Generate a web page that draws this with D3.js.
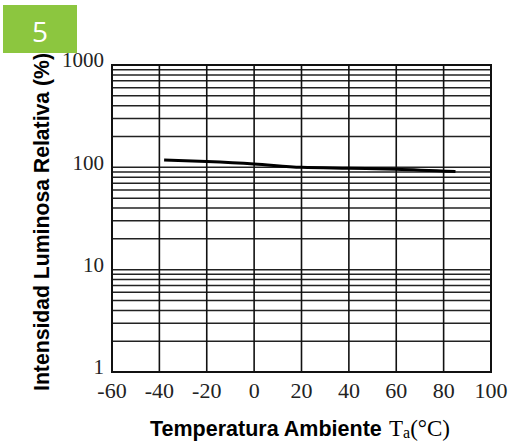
<!DOCTYPE html>
<html>
<head>
<meta charset="utf-8">
<script src="https://cdn.jsdelivr.net/npm/d3@7"></script>
<style>
  html, body { margin: 0; padding: 0; background: #fff; }
  svg { display: block; }
</style>
</head>
<body>
<svg id="drawing_region"></svg>
<script>
// curve
const temps = [-38, -20, 0, 20, 40, 60, 85];
const intensity = [118, 114, 108, 100, 98, 96, 91];

const xTicks = [-60, -40, -20, 0, 20, 40, 60, 80, 100];
const yTicks = [1, 10, 100, 1000];

const width = 511, height = 446;
const plot = { left: 112, right: 491, top: 65, bottom: 372 };

const svg = d3.select('#drawing_region')
    .attr('width', width)
    .attr('height', height);

const x = d3.scaleLinear().domain([-60, 100]).range([plot.left, plot.right]);
const y = d3.scaleLog().domain([1, 1000]).range([plot.bottom, plot.top]);

// badge
svg.append('rect')
    .attr('x', 3).attr('y', 5)
    .attr('width', 74).attr('height', 48)
    .attr('fill', '#8cc63f');
svg.append('text')
    .attr('x', 40).attr('y', 42)
    .attr('text-anchor', 'middle')
    .attr('fill', '#fff')
    .style('font-family', '"Open Sans", sans-serif')
    .style('font-size', '28px')
    .text('5');

// log grid lines: 1..9 in each decade
const minor = [];
for (let d = 1; d < 1000; d *= 10) {
    for (let k = 1; k < 10; k++) minor.push(d * k);
}
minor.push(1000);

svg.append('g')
    .selectAll('line')
    .data(minor)
    .enter()
    .append('line')
    .attr('x1', plot.left).attr('x2', plot.right)
    .attr('y1', d => y(d)).attr('y2', d => y(d))
    .attr('stroke', '#222')
    .attr('stroke-width', 1.5);

svg.append('g')
    .selectAll('line')
    .data(xTicks)
    .enter()
    .append('line')
    .attr('x1', d => x(d)).attr('x2', d => x(d))
    .attr('y1', plot.top).attr('y2', plot.bottom)
    .attr('stroke', '#111')
    .attr('stroke-width', 1.6);

svg.append('rect')
    .attr('x', plot.left).attr('y', plot.top)
    .attr('width', plot.right - plot.left)
    .attr('height', plot.bottom - plot.top)
    .attr('fill', 'none')
    .attr('stroke', '#111')
    .attr('stroke-width', 2);

// curve
const line = d3.line()
    .x((d, i) => x(temps[i]))
    .y(d => y(d))
    .curve(d3.curveMonotoneX);

svg.append('path')
    .datum(intensity)
    .attr('d', line)
    .attr('fill', 'none')
    .attr('stroke', '#000')
    .attr('stroke-width', 3);

// tick labels
svg.append('g')
    .selectAll('text')
    .data(yTicks)
    .enter()
    .append('text')
    .attr('x', 104)
    .attr('y', d => y(d) - 5)
    .attr('dy', '0.35em')
    .attr('text-anchor', 'end')
    .style('font-family', '"Liberation Serif", serif')
    .style('font-size', '21px')
    .attr('fill', '#222')
    .text(d => d);

svg.append('g')
    .selectAll('text')
    .data(xTicks)
    .enter()
    .append('text')
    .attr('x', d => x(d))
    .attr('y', 398)
    .attr('text-anchor', 'middle')
    .style('font-family', '"Liberation Serif", serif')
    .style('font-size', '22px')
    .attr('fill', '#222')
    .text(d => d);

// axis titles
svg.append('text')
    .attr('x', 150)
    .attr('y', 436)
    .attr('fill', '#000')
    .style('font-family', '"Liberation Sans", sans-serif')
    .style('font-weight', 'bold')
    .style('font-size', '21.5px')
    .text('Temperatura Ambiente');

const unit = svg.append('text')
    .attr('x', 389)
    .attr('y', 436)
    .attr('fill', '#000')
    .style('font-family', '"Liberation Serif", serif')
    .style('font-size', '23px');
unit.append('tspan').text('T');
unit.append('tspan')
    .style('font-size', '16px')
    .attr('dy', 2)
    .text('a');
unit.append('tspan')
    .attr('dy', -2)
    .text('(°C)');

svg.append('text')
    .attr('transform', 'translate(49, 222) rotate(-90)')
    .attr('text-anchor', 'middle')
    .style('font-family', '"Liberation Sans", sans-serif')
    .style('font-weight', 'bold')
    .style('font-size', '22px')
    .attr('textLength', 338)
    .attr('lengthAdjust', 'spacingAndGlyphs')
    .attr('fill', '#000')
    .text('Intensidad Luminosa Relativa (%)');
</script>
</body>
</html>
